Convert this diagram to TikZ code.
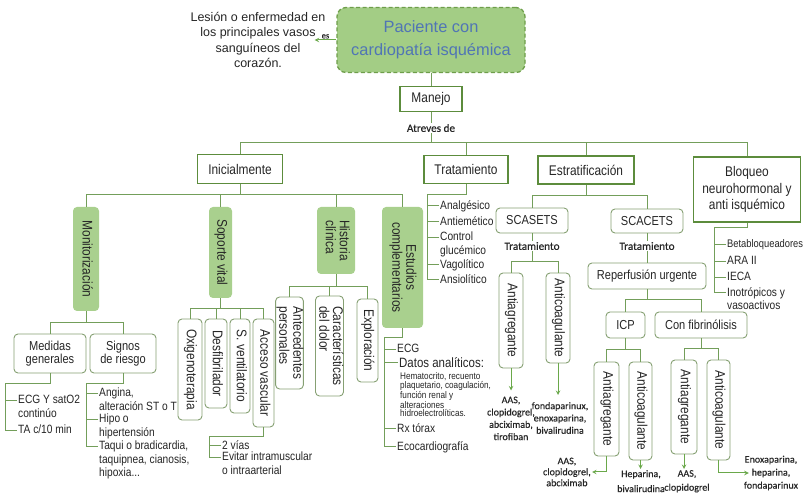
\documentclass[tikz,border=0pt]{standalone}
\usepackage{fontspec}
\setmainfont{Liberation Sans}[FakeStretch=0.85]
\newfontfamily\widefont{Liberation Sans}
\newfontfamily\califont{Carlito}[FakeBold=0.5]
\usepackage{graphicx}
\usepackage{tikz}
\usetikzlibrary{positioning, arrows}
\definecolor{linegreen}{HTML}{739E5A}
\definecolor{arrowgreen}{HTML}{6AA84A}
\definecolor{boxgreen}{HTML}{5C8C3C}
\definecolor{barfill}{HTML}{A9D08E}
\definecolor{titlefill}{HTML}{A3CD85}
\definecolor{titleedge}{HTML}{6E9E4A}
\definecolor{roundedge}{HTML}{86A073}
\definecolor{titleblue}{HTML}{5075B5}
\definecolor{inkgray}{HTML}{262626}
\newcommand{\vtxt}[1]{\rotatebox{-90}{\begin{tabular}{@{}l@{}}#1\end{tabular}}}
\newcommand{\vctr}[1]{\rotatebox{-90}{\begin{tabular}{@{}c@{}}#1\end{tabular}}}
\tikzset{
x=1pt, y=-1pt, % one unit is one pixel of the sketch, y runs downwards
>= stealth, % small filled arrow heads
every node/.style={text=inkgray}, % dark text everywhere
sz/.style 2 args={minimum width=#1pt, minimum height=#2pt}, % box size in pixels
link/.style={draw=linegreen, line width=1pt}, % tree connectors
arr/.style={draw=arrowgreen, line width=1pt, ->}, % arrows to the drug lists
titlebox/.style={draw=titleedge, dash pattern=on 4pt off 2.5pt, line width=1.3pt, rounded corners=9pt, fill=titlefill, text=titleblue, align=center, font=\widefont\fontsize{16.4}{23}\selectfont},
desc/.style={align=center, inner sep=1pt, font=\widefont\fontsize{12.5}{15.5}\selectfont},
mainbox/.style={draw=boxgreen, line width=1.6pt, fill=white, inner sep=2pt, align=center, font=\fontsize{14}{16.5}\selectfont}, % square boxes of the first levels
bar/.style={fill=barfill, rounded corners=4pt, inner sep=0pt, font=\fontsize{14}{12.5}\selectfont}, % green upright boxes
rbox/.style={draw=roundedge, line width=0.9pt, rounded corners=4pt, fill=white, inner sep=0pt, font=\fontsize{14}{12.5}\selectfont}, % white rounded boxes
hbox/.style={rbox, align=center, font=\fontsize{13}{13.5}\selectfont},
item/.style={anchor=north west, inner sep=1pt, align=left, font=\fontsize{12}{13.5}\selectfont}, % list entries
tinytext/.style={anchor=north west, inner sep=1pt, align=left, font=\fontsize{9.6}{8.9}\selectfont},
drug/.style={inner sep=1pt, align=center, font=\califont\fontsize{10}{12.3}\selectfont},
lbl/.style={inner sep=1pt, font=\califont\fontsize{11.2}{13}\selectfont},
}

\begin{document}
\begin{tikzpicture}
\path[use as bounding box, fill=white] (0,0) rectangle (804,502);

\node[titlebox, sz={188}{65}] (pac) at (431,40) {Paciente con\\cardiopatía isquémica};
\node[desc] (def) at (258,40) {Lesión o enfermedad en\\los principales vasos\\sanguíneos del\\corazón.};
\draw[arr] (pac.west) -- node[lbl, above, font=\califont\fontsize{8.5}{9}\selectfont] {es} ([xshift=-12pt]def.east);

\node[mainbox, sz={62}{25}] (man) at (431,99) {Manejo};
\node[lbl] (atr) at (431,128) {Atreves de};
\coordinate (busa) at (431,143);
\draw[link] (pac) -- (man);
\draw[link] (man) -- (atr);
\draw[link] (atr) -- (busa);

\node[mainbox, sz={85}{29}] (ini) at (240,169) {Inicialmente};
\node[mainbox, sz={84}{28}] (trat) at (466,169.5) {Tratamiento};
\node[mainbox, sz={96}{28}] (estr) at (586,170) {Estratificación};
\node[mainbox, sz={107}{65}] (bloq) at (747,189.5) {Bloqueo\\neurohormonal y\\anti isquémico};
\foreach \n in {ini,trat,estr,bloq}
  \draw[link] (busa) -| (\n.north);

% Inicialmente
\node[bar, sz={26}{104}] (moni) at (86,259) {\vtxt{Monitorización}};
\node[bar, sz={23}{91}] (sop) at (220.5,252.5) {\vtxt{Soporte vital}};
\node[bar, sz={38}{67}] (hist) at (336,240.5) {\vtxt{Historia\\clínica}};
\node[bar, sz={41}{121}] (estu) at (402.5,267.5) {\vctr{Estudios\\complementarios}};
\coordinate (busb) at (240,195);
\draw[link] (ini) -- (busb);
\foreach \n in {moni,sop,hist,estu}
  \draw[link] (busb) -| (\n.north);

\node[hbox, sz={72}{39}] (med) at (50,353.5) {Medidas\\generales};
\node[hbox, sz={66}{39}] (sig) at (123,353.5) {Signos\\de riesgo};
\coordinate (busc) at (86,323);
\draw[link] (moni) -- (busc);
\foreach \n in {med,sig}
  \draw[link] (busc) -| (\n.north);

\coordinate (mgs) at (5,384);
\node[item] (ecg) at (17,394) {ECG Y satO2\\continúo};
\node[item] (ta) at (17,424) {TA c/10 min};
\draw[link] (med.south) |- (mgs) |- ([yshift=-7pt]ta.north west);
\draw[link] ([yshift=-7pt]ecg.north west) -- ++(-12,0);

\coordinate (sgs) at (86,384);
\node[item] (ang) at (98,387) {Angina,\\alteración ST o T};
\node[item] (hipo) at (98,413) {Hipo o\\hipertensión};
\node[item] (taq) at (98,440) {Taqui o bradicardia,\\taquipnea, cianosis,\\hipoxia...};
\draw[link] (sig.south) |- (sgs) |- ([yshift=-7pt]taq.north west);
\foreach \n in {ang,hipo}
  \draw[link] ([yshift=-7pt]\n.north west) -- ++(-12,0);

\node[rbox, sz={24}{101}] (oxi) at (190,369.5) {\vtxt{Oxigenoterapia}};
\node[rbox, sz={22}{89}] (desf) at (216,363.5) {\vtxt{Desfibrilador}};
\node[rbox, sz={20}{94}] (svent) at (240,366) {\vtxt{S. ventilatorio}};
\node[rbox, sz={21}{108}] (acc) at (263.5,373) {\vtxt{Acceso vascular}};
\coordinate (busd) at (220.5,309);
\draw[link] (sop) -- (busd);
\foreach \n in {oxi,desf,svent,acc}
  \draw[link] (busd) -| (\n.north);

\coordinate (avs) at (209,437);
\node[item] (vias) at (221,439) {2 vías};
\node[item] (evit) at (221,451) {Evitar intramuscular\\o intraarterial};
\draw[link] (acc.south) |- (avs) |- ([yshift=-7pt]evit.north west);
\draw[link] ([yshift=-7pt]vias.north west) -- ++(-12,0);

\node[rbox, sz={27}{92}] (ante) at (289.5,343) {\vtxt{Antecedentes\\personales}};
\node[rbox, sz={27}{100}] (carac) at (329.5,346) {\vtxt{Características\\del dolor}};
\node[rbox, sz={21}{83}] (expl) at (367.5,340.5) {\vtxt{Exploración}};
\coordinate (buse) at (336,287);
\draw[link] (hist) -- (buse);
\foreach \n in {ante,carac,expl}
  \draw[link] (buse) -| (\n.north);

\coordinate (ecs) at (384,338);
\node[item] (ecg2) at (396,343) {ECG};
\node[item, font=\fontsize{13.5}{14}\selectfont] (dat) at (398,356) {Datos analíticos:};
\node[tinytext] (datd) at (399,371) {Hematocrito, recuento\\plaquetario, coagulación,\\función renal y\\alteraciones\\hidroelectrolíticas.};
\node[item] (rx) at (396,422) {Rx tórax};
\node[item] (eco) at (396,440) {Ecocardiografía};
\draw[link] (estu.south) |- (ecs) |- ([yshift=-7pt]eco.north west);
\foreach \n in {ecg2,rx}
  \draw[link] ([yshift=-7pt]\n.north west) -- ++(-12,0);
\draw[link] ([yshift=-7pt]dat.north west) -- ++(-14,0);

% Tratamiento
\coordinate (trs) at (427,195);
\node[item] (anal) at (439,199) {Analgésico};
\node[item] (antie) at (439,215) {Antiemético};
\node[item] (gluc) at (439,231) {Control\\glucémico};
\node[item] (vago) at (439,258) {Vagolítico};
\node[item] (ansi) at (439,273) {Ansiolítico};
\draw[link] (trat.south) |- (trs) |- ([yshift=-7pt]ansi.north west);
\foreach \n in {anal,antie,gluc,vago}
  \draw[link] ([yshift=-7pt]\n.north west) -- ++(-12,0);

% Estratificacion
\node[hbox, sz={72}{25}] (scas) at (532,220.5) {SCASETS};
\node[hbox, sz={72}{24}] (scac) at (647,221) {SCACETS};
\coordinate (busf) at (586,196);
\draw[link] (estr) -- (busf);
\foreach \n in {scas,scac}
  \draw[link] (busf) -| (\n.north);

\node[lbl, below=7.5pt of scas] (tr1) {Tratamiento};
\coordinate (busg) at (532,262);
\draw[link] (scas) -- (tr1);
\draw[link] (tr1) -- (busg);
\node[rbox, sz={24}{95}] (aag1) at (511,320.5) {\vtxt{Antiagregante}};
\node[rbox, sz={24}{90}] (aco1) at (558,318) {\vtxt{Anticoagulante}};
\foreach \n in {aag1,aco1}
  \draw[link] (busg) -| (\n.north);
\node[drug, anchor=north] (d1) at (511,395.5) {AAS,\\clopidogrel,\\abciximab,\\tirofiban};
\node[drug, anchor=north] (d2) at (560,401) {fondaparinux,\\enoxaparina,\\bivalirudina};
\draw[arr, shorten >=5pt] (aag1.south) -- (aag1.south |- d1.north);
\draw[arr, shorten >=6pt] (aco1.south) -- (aco1.south |- d2.north);

\node[lbl, below=7.5pt of scac] (tr2) {Tratamiento};
\node[hbox, sz={118}{26}] (rep) at (647,276) {Reperfusión urgente};
\coordinate (bush) at (647,300);
\draw[link] (scac) -- (tr2);
\draw[link] (tr2) -- (rep);
\draw[link] (rep) -- (bush);
\node[hbox, sz={39}{26}] (icp) at (625.5,325) {ICP};
\node[hbox, sz={92}{26}] (fib) at (701,325) {Con fibrinólisis};
\foreach \n in {icp,fib}
  \draw[link] (bush) -| (\n.north);

\coordinate (busi) at (625.5,350);
\coordinate (busj) at (701,349);
\draw[link] (icp) -- (busi);
\draw[link] (fib) -- (busj);
\node[rbox, sz={25}{94}] (aag2) at (606.5,409) {\vtxt{Antiagregante}};
\node[rbox, sz={23}{98}] (aco2) at (640.5,411) {\vtxt{Anticoagulante}};
\node[rbox, sz={26}{94}] (aag3) at (684,407) {\vtxt{Antiagregante}};
\node[rbox, sz={23}{100}] (aco3) at (718.5,410) {\vtxt{Anticoagulante}};
\foreach \n in {aag2,aco2}
  \draw[link] (busi) -| (\n.north);
\foreach \n in {aag3,aco3}
  \draw[link] (busj) -| (\n.north);

\node[drug, anchor=east, font=\califont\fontsize{10}{11}\selectfont] (d3) at (592,472) {AAS,\\clopidogrel,\\abciximab};
\node[drug, anchor=north, font=\califont\fontsize{10}{15}\selectfont] (d4) at (641,469) {Heparina,\\bivalirudina};
\node[drug, anchor=north, font=\califont\fontsize{10}{14}\selectfont] (d5) at (687,469) {AAS,\\clopidogrel};
\node[drug, font=\califont\fontsize{10}{13}\selectfont] (d6) at (771,473) {Enoxaparina,\\heparina,\\fondaparinux};
\draw[arr] (aag2.south) |- (d3.east);
\draw[arr] (aco2.south) -- (aco2.south |- d4.north);
\draw[arr] (aag3.south) -- (aag3.south |- d5.north);
\draw[arr] (aco3.south) |- ([xshift=6pt]d6.west);

% Bloqueo
\coordinate (bqs) at (714,228);
\node[item, font=\fontsize{11}{13}\selectfont] (beta) at (726,238) {Betabloqueadores};
\node[item] (ara) at (726,255) {ARA II};
\node[item] (ieca) at (726,271) {IECA};
\node[item] (ino) at (726,286) {Inotrópicos y\\vasoactivos};
\draw[link] (bloq.south) |- (bqs) |- ([yshift=-7pt]ino.north west);
\foreach \n in {beta,ara,ieca}
  \draw[link] ([yshift=-7pt]\n.north west) -- ++(-12,0);
\end{tikzpicture}
\end{document}
